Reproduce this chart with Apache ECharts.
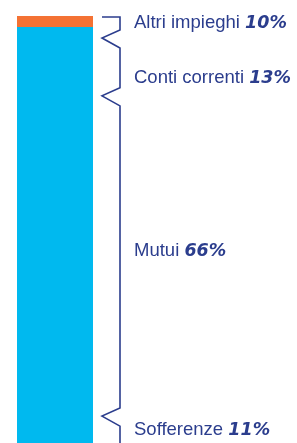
<!DOCTYPE html>
<html>
<head>
<meta charset="utf-8">
<script src="https://cdn.jsdelivr.net/npm/echarts@6/dist/echarts.min.js"></script>
<style>
html,body{margin:0;padding:0;background:#fff;}
#chart{width:297px;height:443px;}
</style>
</head>
<body>
<div id="chart"></div>
<script>
// Categories and their shares (labels of the brace)
const categories = ['Altri impieghi', 'Conti correnti', 'Mutui', 'Sofferenze'];
const shares = [10, 13, 66, 11];
// Bar segments on a 0–100 axis measured from the top of the bar (orange, cyan)
const barSegments = [2.6, 97.4];
// Brace geometry in the same axis units
const braceTop = 0.25;
const braceBreaks = [5.15, 18.7, 93.7];
const labelAt = [1.55, 14.4, 55.0, 96.9];

const navy = '#2B3D8D';

const chart = echarts.init(document.getElementById('chart'), null, {renderer: 'canvas'});
chart.setOption({
  animation: false,
  grid: {left: 17, right: 204, top: 16, bottom: 0},
  xAxis: {type: 'category', data: ['Impieghi'], show: false},
  yAxis: {type: 'value', inverse: true, min: 0, max: 100, show: false},
  series: [
    {type: 'bar', stack: 'tot', barWidth: '100%', data: [barSegments[0]], itemStyle: {color: '#F47234'}},
    {type: 'bar', stack: 'tot', barWidth: '100%', data: [barSegments[1]], itemStyle: {color: '#00B9EF'}},
    {
      type: 'custom',
      data: [0],
      clip: false,
      renderItem: function (params, api) {
        const cs = params.coordSys;
        const xr = cs.x + cs.width;
        const xPt = xr + 9, xV = xr + 27;
        const yTop = api.coord([0, braceTop])[1];
        const pts = [[xPt, yTop], [xV, yTop]];
        braceBreaks.forEach(function (b) {
          const y = api.coord([0, b])[1];
          pts.push([xV, y - 8], [xPt, y], [xV, y + 10]);
        });
        pts.push([xV, cs.y + cs.height + 20]);
        const children = [{
          type: 'polyline',
          shape: {points: pts},
          style: {stroke: navy, lineWidth: 1.6, fill: null, lineJoin: 'miter'}
        }];
        categories.forEach(function (c, i) {
          children.push({
            type: 'text',
            x: xr + 41,
            y: api.coord([0, labelAt[i]])[1],
            style: {
              text: '{n|' + c + ' }{p|' + shares[i] + '%}',
              fill: navy,
              align: 'left',
              verticalAlign: 'middle',
              rich: {
                n: {font: '18.5px "Liberation Sans"', fill: navy},
                p: {font: 'italic bold 17.5px "DejaVu Sans"', fill: navy, padding: [1, 0, 0, 0]}
              }
            }
          });
        });
        return {type: 'group', children: children};
      }
    }
  ]
});
</script>
</body>
</html>
